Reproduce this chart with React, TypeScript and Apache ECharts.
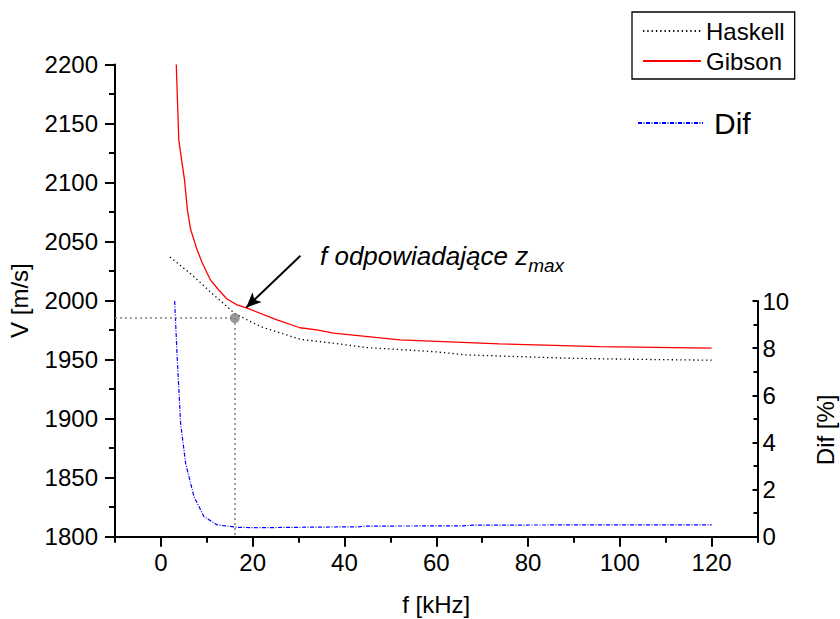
import React, { useEffect, useRef } from 'react';
import * as echarts from 'echarts';

// Gibson curve (V [m/s] vs f [kHz])
const gibsonF = [3.35, 3.9, 5.15, 5.8, 6.5, 7.8, 9.0, 10.8, 12.6, 14.4, 16.6, 18.8, 25.3, 30.3, 34, 37.6, 52.1, 73.8, 95.6, 120];
const gibsonV = [2200, 2136, 2102, 2076, 2060, 2044, 2032, 2017.5, 2009, 2001.4, 1996.4, 1993.6, 1983.6, 1977, 1975.2, 1972.4, 1966.7, 1963.3, 1961, 1959.7];

// Haskell curve
const haskellF = [2, 7.2, 11.5, 14.4, 16.1, 21.7, 30.4, 37.6, 44.9, 59.3, 66.6, 88.3, 102.8, 120];
const haskellV = [2037, 2020.3, 2004.8, 1995, 1989, 1978, 1967.2, 1963.9, 1960.2, 1956.8, 1954, 1951.2, 1950.3, 1949.5];

// Dif [%]
const difF = [3, 3.55, 4.3, 5.4, 7.2, 9.4, 12.3, 16.6, 21, 30, 43, 45, 66, 68, 90, 120];
const difV = [10, 7.6, 4.8, 3.1, 1.7, 0.85, 0.5, 0.4, 0.38, 0.4, 0.42, 0.45, 0.46, 0.49, 0.5, 0.5];

// marked point (f at z_max)
const markF = 16.1;
const markV = 1985.2;

// arrow endpoints
const arrowFrom = [30.4, 2038];
const arrowTo = [18.6, 1994.2];

const xMajor = [0, 20, 40, 60, 80, 100, 120];
const xMinor = [-10, 10, 30, 50, 70, 90, 110, 130];

const FONT = 'Liberation Sans, Arial, sans-serif';

export default function App() {
  const ref = useRef<HTMLDivElement>(null);
  useEffect(() => {
    if (!ref.current) return;
    const chart = echarts.init(ref.current, null, { renderer: 'svg' });
    const zip = (a: number[], b: number[]) => a.map((v, i) => [v, b[i]]);
    const axisLine = { show: true, onZero: false, lineStyle: { color: '#000', width: 2 } };
    const hiddenIcon = { color: 'rgba(0,0,0,0)', borderWidth: 0, opacity: 0 };
    const option: any = {
      animation: false,
      backgroundColor: '#fff',
      textStyle: { fontFamily: FONT },
      grid: [
        { left: 115, right: 82.5, top: 64.5, bottom: 82.3, containLabel: false, outerBoundsMode: 'none' },
        { left: 115, right: 82.5, top: 301, bottom: 82.3, containLabel: false, outerBoundsMode: 'none' },
      ],
      legend: [
        {
          data: ['Haskell', 'Gibson'],
          orient: 'vertical',
          left: 632,
          top: 12,
          padding: [7, 10, 6, 10],
          itemGap: 6,
          itemWidth: 58,
          itemHeight: 20,
          borderColor: '#000',
          borderWidth: 1.3,
          itemStyle: hiddenIcon,
          textStyle: { fontSize: 24, color: '#000', fontFamily: FONT },
          selectedMode: false,
        },
        {
          data: ['Dif'],
          orient: 'vertical',
          left: 637,
          top: 108,
          padding: 0,
          itemWidth: 65,
          itemHeight: 20,
          itemStyle: hiddenIcon,
          textStyle: { fontSize: 30, color: '#000', fontFamily: FONT, padding: [0, 0, 0, 6] },
          selectedMode: false,
        },
      ],
      xAxis: [
        {
          type: 'value', gridIndex: 0, min: -10, max: 130, position: 'bottom',
          name: 'f [kHz]', nameLocation: 'middle', nameGap: 56,
          nameTextStyle: { fontSize: 24, color: '#000', fontFamily: FONT },
          axisLine,
          axisTick: { show: true, length: 10, customValues: xMajor, lineStyle: { color: '#000', width: 2 } },
          axisLabel: { customValues: xMajor, fontSize: 24, color: '#000', margin: 14, fontFamily: FONT, formatter: (v: number) => String(v) },
          splitLine: { show: false },
        },
        {
          type: 'value', gridIndex: 0, min: -10, max: 130, position: 'bottom',
          axisLine: { show: false, onZero: false },
          axisTick: { show: true, length: 6, customValues: xMinor, lineStyle: { color: '#000', width: 2 } },
          axisLabel: { show: false },
          splitLine: { show: false },
        },
        {
          type: 'value', gridIndex: 1, min: -10, max: 130, show: false,
          axisLine: { show: false, onZero: false },
        },
      ],
      yAxis: [
        {
          type: 'value', gridIndex: 0, min: 1800, max: 2200, interval: 50, position: 'left',
          name: 'V [m/s]', nameLocation: 'middle', nameGap: 84,
          nameTextStyle: { fontSize: 24, color: '#000', fontFamily: FONT },
          axisLine,
          axisTick: { show: true, length: 10, lineStyle: { color: '#000', width: 2 } },
          minorTick: { show: true, splitNumber: 2, length: 6, lineStyle: { color: '#000', width: 2 } },
          axisLabel: { fontSize: 24, color: '#000', margin: 17, fontFamily: FONT, formatter: (v: number) => String(v) },
          splitLine: { show: false },
        },
        {
          type: 'value', gridIndex: 1, min: 0, max: 10, interval: 2, position: 'right',
          name: 'Dif [%]', nameLocation: 'middle', nameGap: 56,
          nameTextStyle: { fontSize: 24, color: '#000', fontFamily: FONT, padding: [0, 22, 0, 0] },
          axisLine,
          axisTick: { show: true, inside: true, length: 5, lineStyle: { color: '#000', width: 2 } },
          minorTick: { show: true, splitNumber: 2, length: 4, lineStyle: { color: '#000', width: 2 } },
          axisLabel: { fontSize: 24, color: '#000', margin: 5, fontFamily: FONT, formatter: (v: number) => String(v) },
          splitLine: { show: false },
        },
      ],
      series: [
        {
          name: 'Haskell', type: 'line', xAxisIndex: 0, yAxisIndex: 0,
          data: zip(haskellF, haskellV), symbol: 'none', smooth: false,
          lineStyle: { color: '#000', width: 1.3, type: [1.3, 3] },
          itemStyle: { color: '#000' },
        },
        {
          name: 'Gibson', type: 'line', xAxisIndex: 0, yAxisIndex: 0,
          data: zip(gibsonF, gibsonV), symbol: 'none',
          lineStyle: { color: '#ff0000', width: 1.3 },
          itemStyle: { color: '#ff0000' },
        },
        {
          name: 'Dif', type: 'line', xAxisIndex: 2, yAxisIndex: 1,
          data: zip(difF, difV), symbol: 'none',
          lineStyle: { color: '#0000ff', width: 1.2, type: [4, 1.5, 1, 1.5] },
          itemStyle: { color: '#0000ff' },
        },
        {
          name: 'zmax', type: 'scatter', xAxisIndex: 0, yAxisIndex: 0,
          data: [[markF, markV]], symbol: 'circle', symbolSize: 10,
          itemStyle: { color: '#808080' }, silent: true, z: 5,
          markLine: {
            silent: true, symbol: 'none', animation: false,
            label: { show: false },
            lineStyle: { color: '#808080', width: 1.5, type: [2, 3] },
            data: [
              [{ coord: [-10, markV] }, { coord: [markF, markV] }],
              [{ coord: [markF, markV] }, { coord: [markF, 1800] }],
            ],
          },
        },
        {
          name: 'arrow', type: 'scatter', xAxisIndex: 0, yAxisIndex: 0,
          data: [arrowTo], symbolSize: 0, silent: true, z: 6,
          markLine: {
            silent: true, animation: false,
            symbol: ['none', 'arrow'], symbolSize: [10, 15],
            label: { show: false },
            lineStyle: { color: '#000', width: 2, type: 'solid' },
            data: [[{ coord: arrowFrom }, { coord: arrowTo }]],
          },
        },
      ],
      graphic: [
        {
          type: 'text', left: 320, top: 236, z: 10,
          style: {
            text: '{a|f odpowiadające z}{b|max}',
            fill: '#000',
            rich: {
              a: { fontSize: 26, fontStyle: 'italic', fontFamily: FONT, lineHeight: 30, fill: '#000' },
              b: { fontSize: 19, fontStyle: 'italic', fontFamily: FONT, lineHeight: 19, padding: [20, 0, 0, 0], fill: '#000' },
            },
          },
        },
      ],
    };
    chart.setOption(option);
    return () => chart.dispose();
  }, []);
  return <div ref={ref} style={{ position: 'fixed', left: 0, top: 0, width: 840, height: 619 }} />;
}
